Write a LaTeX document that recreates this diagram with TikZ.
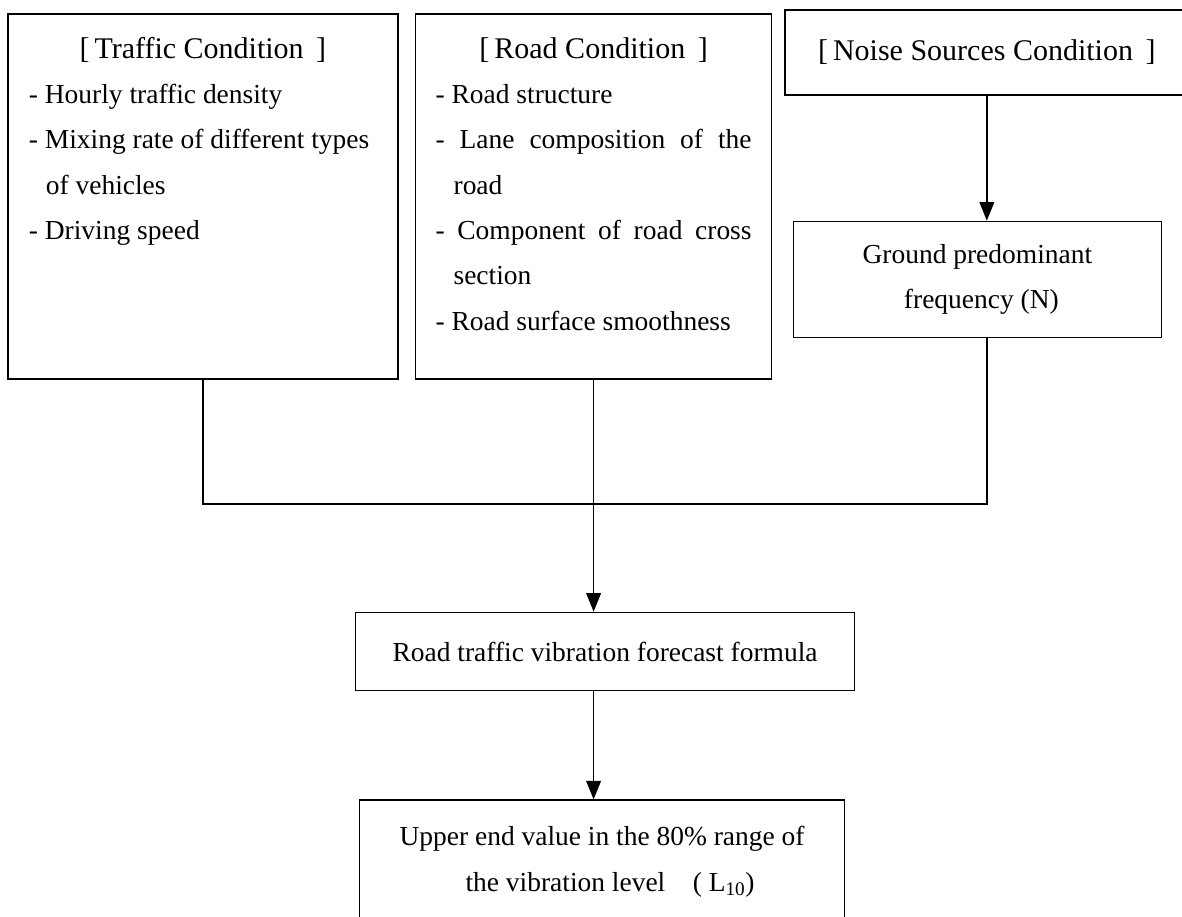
\documentclass[tikz,border=0pt]{standalone}
\usepackage{fontspec}
\setmainfont{Liberation Serif}
\usepackage{tikz}
\usetikzlibrary{shapes.geometric, arrows.meta, positioning}
\tikzstyle{condbox} = [rectangle, draw=black, line width=1.3pt, inner xsep=15.75pt, inner ysep=0pt, anchor=north west]
\tikzstyle{process} = [rectangle, draw=black, line width=1.3pt, text centered, align=center, inner sep=0pt]
\tikzstyle{joinline} = [line width=1.2pt]
\tikzstyle{arrow} = [line width=1.2pt, -{Triangle[length=14pt, width=11pt]}]
\newcommand{\boxtitle}[1]{{\fontsize{22.5}{34}\selectfont[\,#1\, ]}}

\begin{document}
\begin{tikzpicture}[font=\fontsize{20.6}{34}\selectfont]
			\useasboundingbox (0,0) rectangle (886.5pt,-687.75pt);
			
			\node (traffic) [condbox] at (5.25pt,-9.75pt)
			{\parbox[c][273.75pt][t]{261pt}{\vspace*{17.5pt}\centering \boxtitle{Traffic Condition}\par
			\raggedright - Hourly traffic density\par
			- Mixing rate of different types\par
			\hspace*{12.75pt}of vehicles\par
			- Driving speed}};
			
			\node (road) [condbox, inner xsep=15pt, right=12pt of traffic.north east, anchor=north west]
			{\parbox[c][273.75pt][t]{237pt}{\vspace*{17.5pt}\centering \boxtitle{Road Condition}\par
			\raggedright - Road structure\par
			\makebox[\linewidth][s]{- Lane composition of the}\par
			\hspace*{13.5pt}road\par
			\makebox[\linewidth][s]{- Component of road cross}\par
			\hspace*{13.5pt}section\par
			- Road surface smoothness}};
			
			\node (noise) [process, minimum width=302.25pt, minimum height=63.75pt, right=9pt of road.north east, anchor=north west, yshift=3pt] {\boxtitle{Noise Sources Condition}};
			
			\node (ground) [process, minimum width=276pt, minimum height=87pt, below=93.75pt of noise, xshift=-7.1pt] {Ground predominant\\\hspace*{6pt}frequency (N)};
			
			\coordinate [below=93pt of road] (junction);
			
			\node (formula) [process, minimum width=374.25pt, minimum height=58.5pt, below=81pt of junction, xshift=8.6pt] {Road traffic vibration forecast formula};
			
			\node (result) [process, below=81pt of formula, xshift=-2.25pt]
			{\parbox[c][105pt][t]{363.75pt}{\vspace*{19.5pt}\centering Upper end value in the 80\% range of\\ \hspace*{12pt}the vibration level\quad( L\textsubscript{10})}};
			
			
			\draw [arrow] (noise.south) -- (noise.south |- ground.north);
			\draw [joinline] (traffic.south) |- (junction) -| (noise.south |- ground.south);
			\draw [arrow] (road.south) -- (road.south |- formula.north);
			\draw [arrow] (formula.south -| road.south) -- (road.south |- result.north);
			
		\end{tikzpicture}
\end{document}
